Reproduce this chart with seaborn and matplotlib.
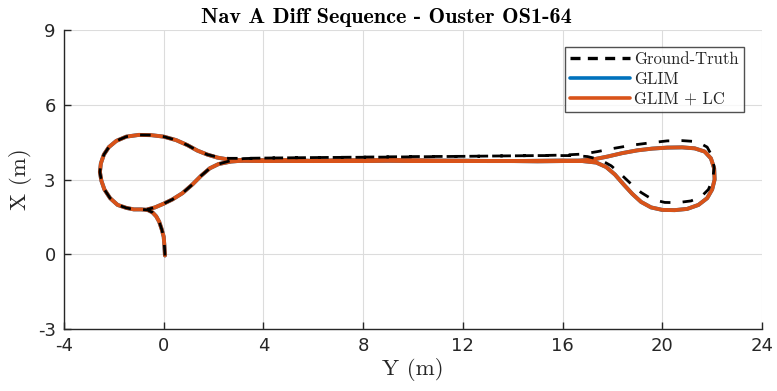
import matplotlib
matplotlib.use("Agg")
import matplotlib.pyplot as plt
import seaborn as sns
import pandas as pd
from matplotlib.lines import Line2D

# ---------------- data (Y = horizontal, X = vertical, metres) ----------------
lc_y = [0.05, 0.03, 0.0, -0.08, -0.18, -0.3, -0.45, -0.65,
        -0.9, -1.2, -1.5, -1.85, -2.15, -2.38, -2.5, -2.56, -2.52, -2.4, -2.2, -1.9,
        -1.5, -1.0, -0.5, 0.0, 0.5, 0.95, 1.35, 1.75, 2.15, 2.6, 3.2,
        4.0, 5.0, 6.0, 7.0, 8.0, 9.0, 10.0, 11.0, 12.0, 13.0, 14.0, 15.0, 16.0, 16.7, 17.2,
        17.8, 18.4, 19.0, 19.6, 20.2, 20.8, 21.3, 21.7, 21.95, 22.08, 22.1, 22.0, 21.8,
        21.45, 21.0, 20.5, 20.0, 19.55, 19.15, 18.8, 18.45, 18.1, 17.75, 17.35, 16.8,
        16.0, 14.0, 12.0, 10.0, 8.0, 6.0, 4.0, 3.2, 2.7,
        2.2, 1.85, 1.5, 1.15, 0.75, 0.35, 0.0, -0.35, -0.65]
lc_x = [-0.05, 0.3, 0.7, 1.0, 1.3, 1.52, 1.68, 1.78,
        1.8, 1.8, 1.86, 1.98, 2.25, 2.6, 2.95, 3.3, 3.65, 4.0, 4.3, 4.55,
        4.72, 4.79, 4.78, 4.72, 4.58, 4.38, 4.16, 4.0, 3.88, 3.8, 3.77,
        3.76, 3.77, 3.74, 3.76, 3.76, 3.77, 3.76, 3.75, 3.75, 3.74, 3.74, 3.73, 3.74, 3.76, 3.8,
        3.92, 4.06, 4.17, 4.24, 4.28, 4.29, 4.25, 4.12, 3.85, 3.45, 3.0, 2.6, 2.25,
        1.98, 1.82, 1.77, 1.78, 1.88, 2.1, 2.42, 2.8, 3.2, 3.5, 3.68, 3.74,
        3.76, 3.74, 3.75, 3.76, 3.76, 3.75, 3.76, 3.76, 3.72,
        3.62, 3.45, 3.15, 2.8, 2.45, 2.2, 2.03, 1.88, 1.8]

glim_y = list(lc_y)
glim_x = list(lc_x)

gt_y = [0.05, 0.03, 0.0, -0.08, -0.18, -0.3, -0.45, -0.65,
        -0.9, -1.2, -1.5, -1.85, -2.15, -2.38, -2.5, -2.56, -2.52, -2.4, -2.2, -1.9,
        -1.5, -1.0, -0.5, 0.0, 0.5, 0.95, 1.35, 1.75, 2.15, 2.6, 3.2,
        4.0, 6.0, 8.0, 10.0, 12.0, 14.0, 15.0, 16.0, 16.8,
        17.4, 18.0, 18.8, 19.5, 20.2, 20.8, 21.4, 21.8, 22.02, 22.08, 22.02, 21.85,
        21.55, 21.15, 20.6, 20.1, 19.6, 19.15, 18.75, 18.35, 17.95, 17.5, 17.0, 16.5,
        15.0, 12.0, 9.0, 6.0, 4.0, 3.2, 2.7,
        2.2, 1.85, 1.5, 1.15, 0.75, 0.35, 0.0, -0.35, -0.65]
gt_x = [-0.05, 0.3, 0.7, 1.0, 1.3, 1.52, 1.68, 1.78,
        1.8, 1.8, 1.86, 1.98, 2.25, 2.6, 2.95, 3.3, 3.65, 4.0, 4.3, 4.55,
        4.72, 4.79, 4.78, 4.72, 4.58, 4.38, 4.16, 4.0, 3.9, 3.85, 3.85,
        3.86, 3.88, 3.9, 3.92, 3.93, 3.95, 3.96, 3.98, 4.02,
        4.12, 4.24, 4.38, 4.47, 4.55, 4.56, 4.52, 4.3, 3.9, 3.45, 3.0, 2.6,
        2.3, 2.14, 2.07, 2.08, 2.2, 2.48, 2.82, 3.2, 3.55, 3.8, 3.92, 3.96,
        3.96, 3.93, 3.9, 3.88, 3.86, 3.84, 3.76,
        3.62, 3.45, 3.15, 2.8, 2.45, 2.2, 2.03, 1.88, 1.8]

series_names = ["Ground-Truth", "GLIM", "GLIM + LC"]
title_text = "Nav A Diff Sequence - Ouster OS1-64"
x_ticks = [-4, 0, 4, 8, 12, 16, 20, 24]
y_ticks = [-3, 0, 3, 6, 9]

# ---------------- styling ----------------
sns.set_theme(style="white")
plt.rcParams["font.family"] = ["DejaVu Sans"]

C_BLUE = "#0072BD"
C_ORANGE = "#D95319"

fig = plt.figure(figsize=(7.77, 3.91), dpi=100)
ax = fig.add_axes([64 / 777, 1 - 329 / 391, 698 / 777, 299 / 391])

def df_of(y, x):
    return pd.DataFrame({"Y": y, "X": x, "i": range(len(y))})

sns.lineplot(data=df_of(glim_y, glim_x), x="Y", y="X", sort=False, estimator=None,
             color=C_BLUE, linewidth=2.8, ax=ax, zorder=3)
sns.lineplot(data=df_of(lc_y, lc_x), x="Y", y="X", sort=False, estimator=None,
             color=C_ORANGE, linewidth=2.8, ax=ax, zorder=4)
sns.lineplot(data=df_of(gt_y, gt_x), x="Y", y="X", sort=False, estimator=None,
             color="black", linewidth=2.0, ax=ax, zorder=5)
ax.lines[-1].set_dashes((3.8, 4.4))

ax.set_xlim(-4, 24)
ax.set_ylim(-3, 9)
ax.set_xticks(x_ticks)
ax.set_yticks(y_ticks)
ax.set_xticklabels([str(t) for t in x_ticks])
ax.set_yticklabels([str(t) for t in y_ticks])
ax.grid(True, color="#dcdcdc", linewidth=0.8)
ax.set_axisbelow(True)
for s in ["top", "right"]:
    ax.spines[s].set_visible(False)
for s in ["left", "bottom"]:
    ax.spines[s].set_color("#262626")
    ax.spines[s].set_linewidth(1.0)
ax.tick_params(axis="both", direction="in", length=5, width=1.0, colors="#262626",
               labelsize=13, bottom=True, left=True, pad=6)

ax.set_xlabel("Y (m)", family="cmr10", fontsize=16.5, color="#262626", labelpad=2)
ax.set_ylabel("X (m)", family="cmr10", fontsize=16.5, color="#262626", labelpad=4)
ax.set_title(title_text, family="cmb10", fontsize=16, color="black", pad=5,
             x=(386.5 - 64) / 698)

handles = [
    Line2D([], [], color="black", linewidth=2.4, dashes=(3.0, 2.2)),
    Line2D([], [], color=C_BLUE, linewidth=2.6),
    Line2D([], [], color=C_ORANGE, linewidth=2.6),
]
leg = ax.legend(handles, series_names, loc="upper right",
                bbox_to_anchor=((744 - 64) / 698, (329 - 47) / 299),
                prop={"family": "cmr10", "size": 12}, frameon=True, fancybox=False,
                handlelength=3.6, handletextpad=0.25, borderpad=0.3, labelspacing=0.26,
                borderaxespad=0.0)
leg.get_frame().set_edgecolor("#262626")
leg.get_frame().set_linewidth(1.0)

fig.savefig("out.png", dpi=100)
